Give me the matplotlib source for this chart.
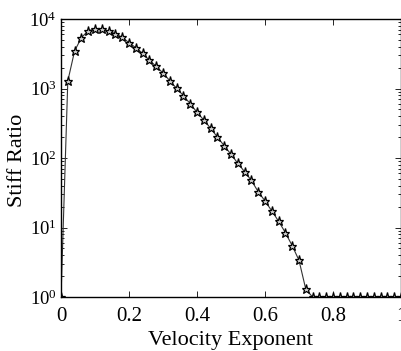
import numpy as np
import matplotlib
matplotlib.use("Agg")
import matplotlib.pyplot as plt
from matplotlib.ticker import LogLocator, LogFormatterMathtext, NullFormatter

plt.rcParams['font.family'] = ['Liberation Serif', 'DejaVu Serif']
plt.rcParams['mathtext.fontset'] = 'stix'

# velocity exponent samples and the corresponding stiffness ratio
velocity_exponent = np.round(np.arange(0, 1.0001, 0.02), 2)
stiff_ratio = [
    1, 1282, 3467, 5383, 6790, 7180, 7180, 6719, 6143, 5454,
    4561, 3865, 3209, 2545, 2085, 1671, 1295, 1007, 788, 604,
    455, 352, 268, 200, 150, 113, 84, 63.5, 47.5, 32.7,
    24.1, 17.3, 12.3, 8.42, 5.47, 3.37, 1.29, 1, 1, 1,
    1, 1, 1, 1, 1, 1, 1, 1, 1, 1, 1,
]
x_ticks = [0, 0.2, 0.4, 0.6, 0.8, 1.0]
x_tick_labels = ['0', '0.2', '0.4', '0.6', '0.8', '1']

W, H = 401, 351
fig = plt.figure(figsize=(W / 100, H / 100), dpi=100)
ax = fig.add_axes([61 / W, (H - 297) / H, 340 / W, 278 / H])

ax.plot(velocity_exponent, stiff_ratio, color='#333333', lw=0.8,
        marker='*', markersize=6.5, markerfacecolor='#cccccc',
        markeredgecolor='black', markeredgewidth=0.9)

ax.set_yscale('log')
ax.set_xlim(0, 1)
ax.set_ylim(1, 1e4)
ax.yaxis.set_major_locator(LogLocator(base=10, numticks=10))
ax.yaxis.set_minor_locator(LogLocator(base=10, subs=np.arange(2, 10), numticks=10))
ax.yaxis.set_major_formatter(LogFormatterMathtext())
ax.yaxis.set_minor_formatter(NullFormatter())
ax.set_xticks(x_ticks)
ax.set_xticklabels(x_tick_labels)

ax.tick_params(which='both', direction='in', top=True, right=True, width=0.6)
ax.tick_params(which='major', length=4)
ax.tick_params(which='minor', length=2)
ax.tick_params(axis='x', pad=7, labelsize=15)
ax.tick_params(axis='y', pad=3, labelsize=13.5)
for s in ax.spines.values():
    s.set_linewidth(1.0)

ax.set_xlabel('Velocity Exponent', fontsize=16, labelpad=4)
ax.set_ylabel('Stiff Ratio', fontsize=16)
ax.yaxis.set_label_coords(-0.10, 0.49)

fig.savefig('out.png', dpi=100)
